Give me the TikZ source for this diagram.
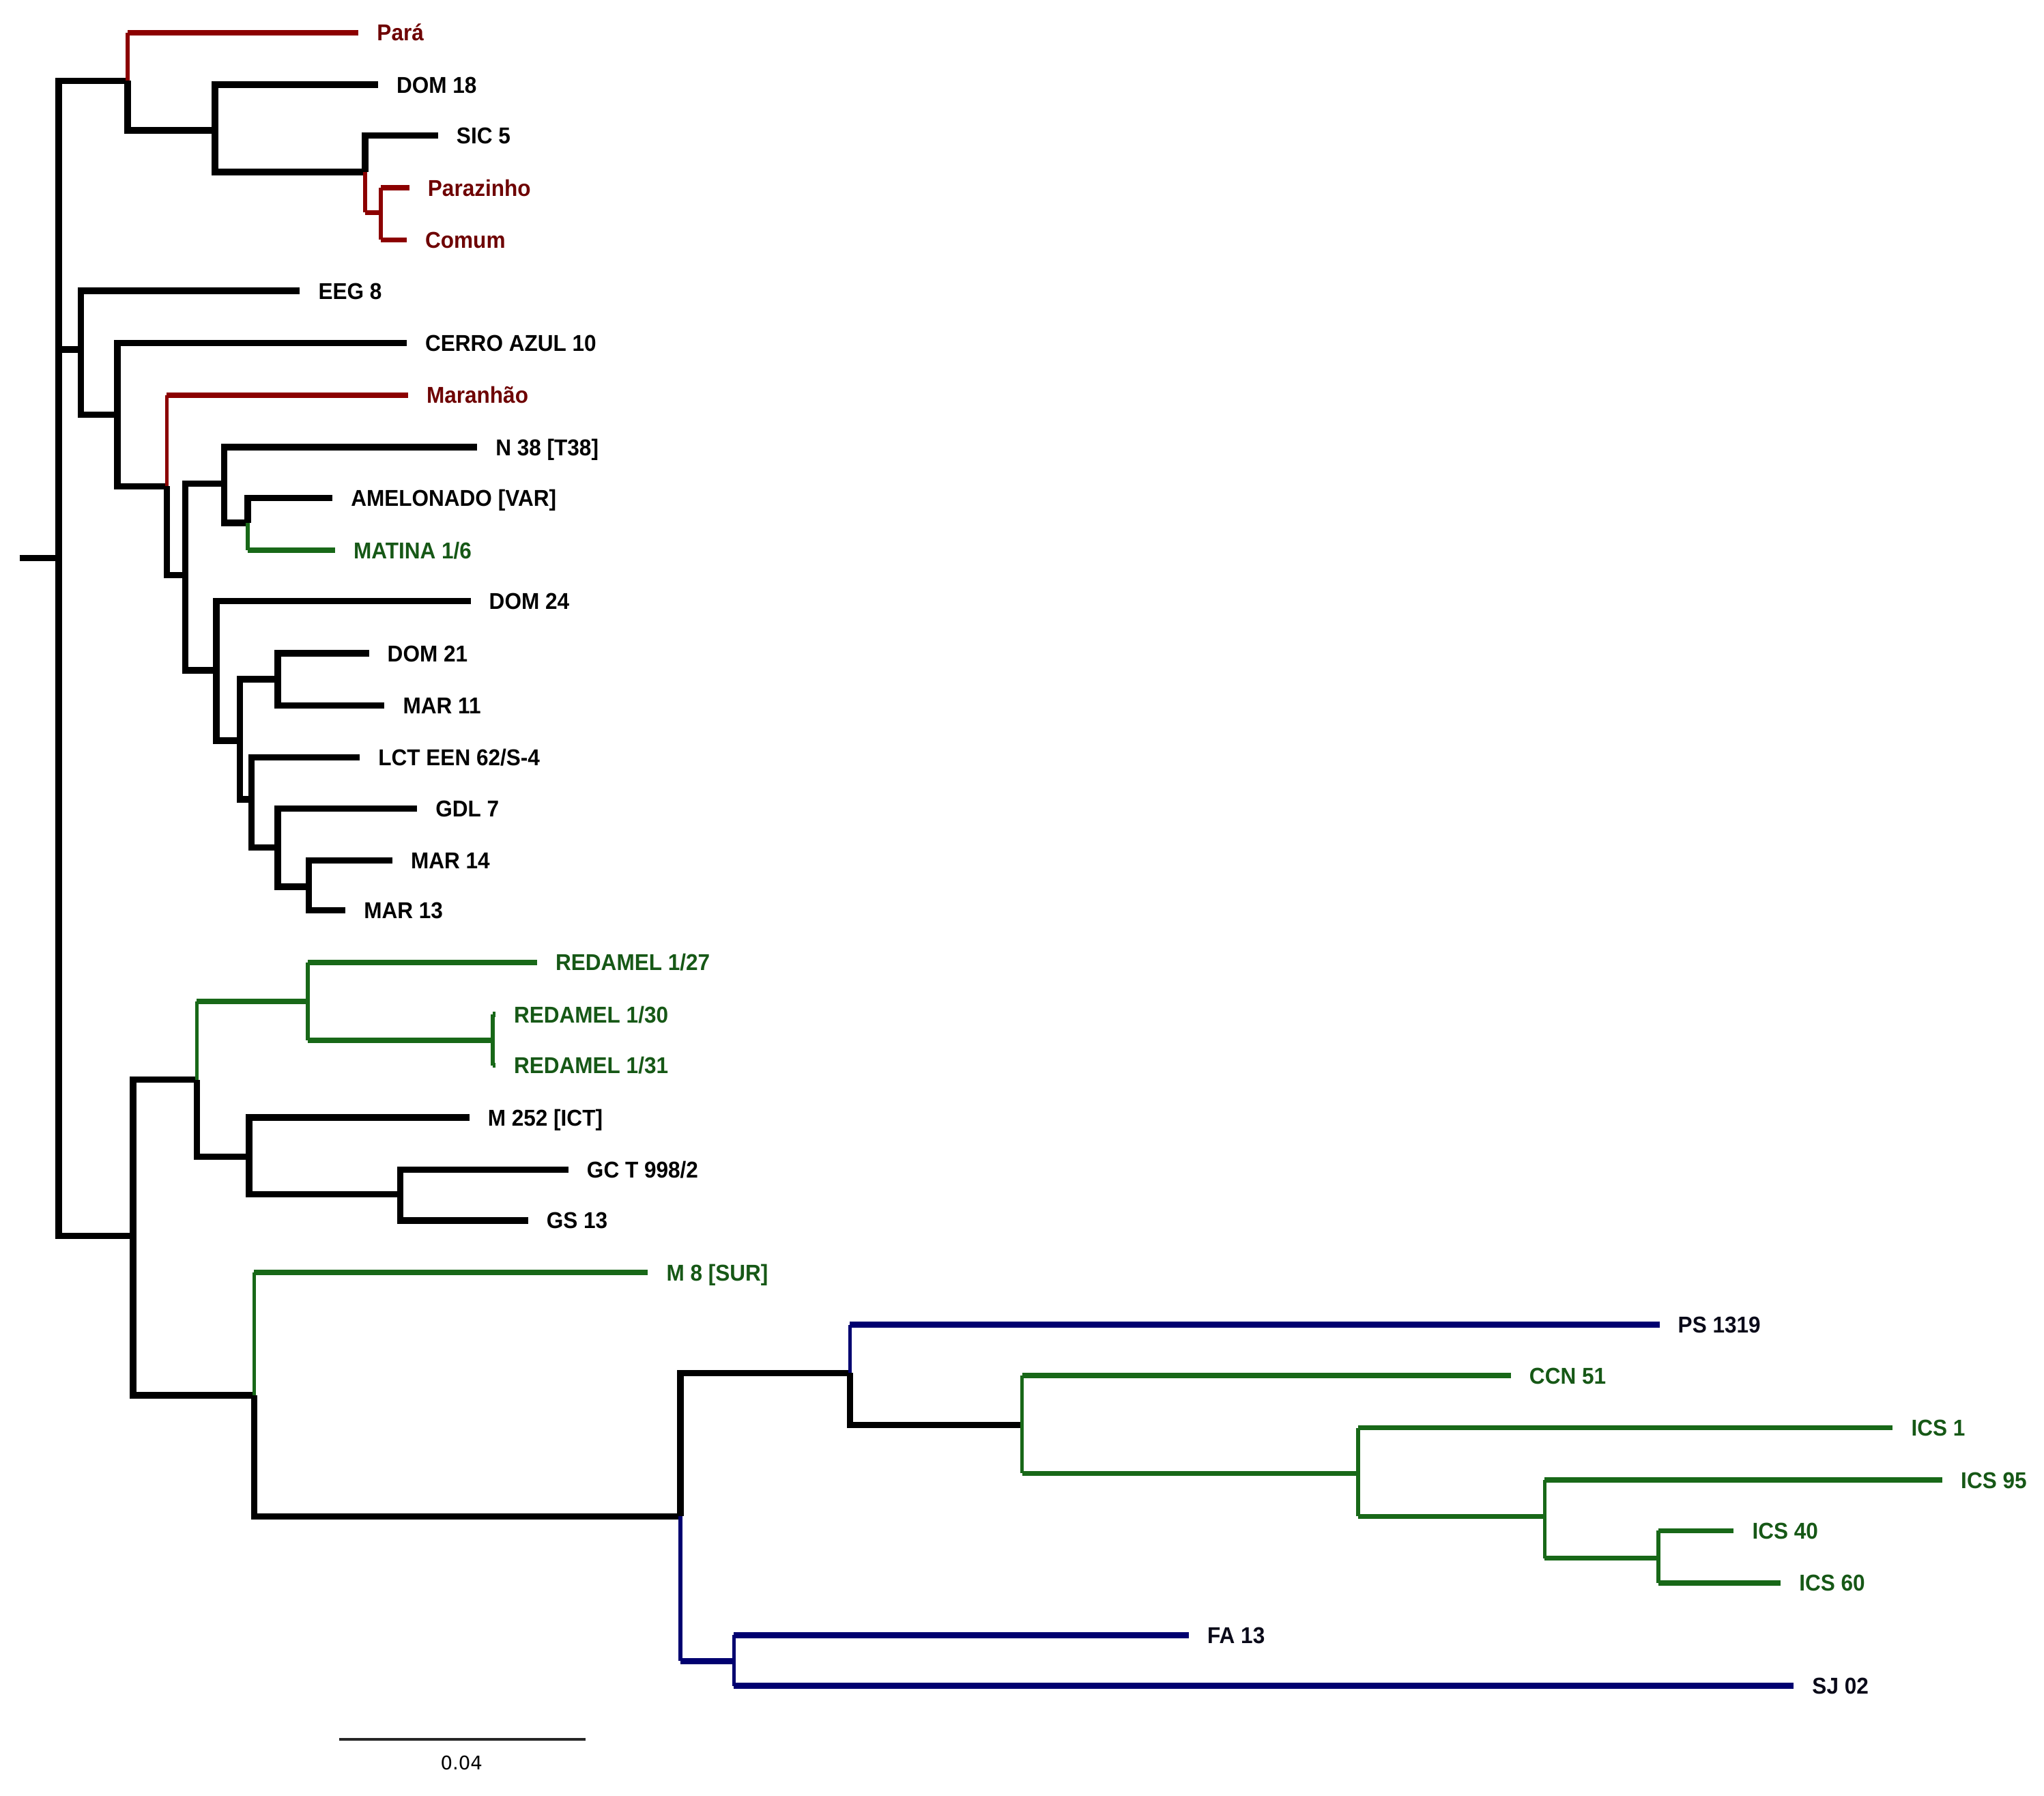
\documentclass[tikz,border=0pt]{standalone}
\usepackage{fontspec}
\newfontfamily\labfont{Liberation Sans}[FakeStretch=0.94]
\newfontfamily\scalefont{DejaVu Sans}
\definecolor{lred}{RGB}{140,0,0}
\definecolor{tred}{RGB}{110,0,0}
\definecolor{lgrn}{RGB}{24,104,24}
\definecolor{tgrn}{RGB}{22,88,22}
\definecolor{lblu}{RGB}{0,0,112}
\definecolor{tblk}{RGB}{10,10,25}
\newcommand\cbranch[3]{\draw[#1v] (#2) -- (#2 |- #3); \draw[#1h] (#2 |- #3) -- (#3);}
\begin{document}
\begin{tikzpicture}[x=0.02cm,y=-0.02cm,
  lab/.style={anchor=west, inner xsep=7.9pt, inner ysep=0pt, text height=7.2pt, text depth=0pt,
    font=\labfont\bfseries\fontsize{10pt}{12pt}\selectfont, text=black},
  labr/.style={lab, text=tred},
  labg/.style={lab, text=tgrn},
  labb/.style={lab, text=tblk},
  blk/.style={line width=2.8pt, black},
  redv/.style={line width=1.7pt, lred, line cap=square},
  redh/.style={line width=2.3pt, lred},
  grnv/.style={line width=1.7pt, lgrn, line cap=square},
  grnh/.style={line width=2.3pt, lgrn},
  bluv/.style={line width=1.6pt, lblu, line cap=square},
  bluh/.style={line width=2.7pt, lblu}]
\fill[white] (0,0) rectangle (1568,1377);
\useasboundingbox (0,0) rectangle (1568,1377);

% ---------- leaves (label nodes; west anchor = branch tip) ----------
\node[labr] (Para) at (275,25) {Pará};
\node[lab] (DOM18) at (290,65) {DOM 18};
\node[lab] (SIC5) at (336,104) {SIC 5};
\node[labr] (Parazinho) at (314,144) {Parazinho};
\node[labr] (Comum) at (312,184) {Comum};
\node[lab] (EEG8) at (230,223) {EEG 8};
\node[lab] (CERRO) at (312,263) {CERRO AZUL 10};
\node[labr] (Maranhao) at (313,303) {Maranhão};
\node[lab] (N38) at (366,343) {N 38 [T38]};
\node[lab] (AMEL) at (255,382) {AMELONADO [VAR]};
\node[labg] (MATINA) at (257,422) {MATINA 1/6};
\node[lab] (DOM24) at (361,461) {DOM 24};
\node[lab] (DOM21) at (283,501) {DOM 21};
\node[lab] (MAR11) at (295,541) {MAR 11};
\node[lab] (LCT) at (276,581) {LCT EEN 62/S-4};
\node[lab] (GDL7) at (320,620) {GDL 7};
\node[lab] (MAR14) at (301,660) {MAR 14};
\node[lab] (MAR13) at (265,698) {MAR 13};
\node[labg] (RED27) at (412,738) {REDAMEL 1/27};
\node[labg] (RED30) at (380,778) {REDAMEL 1/30};
\node[labg] (RED31) at (380,817) {REDAMEL 1/31};
\node[lab] (M252) at (360,857) {M 252 [ICT]};
\node[lab] (GCT) at (436,897) {GC T 998/2};
\node[lab] (GS13) at (405,936) {GS 13};
\node[labg] (M8) at (497,976) {M 8 [SUR]};
\node[labb] (PS) at (1273,1016) {PS 1319};
\node[labg] (CCN) at (1159,1055) {CCN 51};
\node[labg] (ICS1) at (1452,1095) {ICS 1};
\node[labg] (ICS95) at (1490,1135) {ICS 95};
\node[labg] (ICS40) at (1330,1174) {ICS 40};
\node[labg] (ICS60) at (1366,1214) {ICS 60};
\node[labb] (FA13) at (912,1254) {FA 13};
\node[labb] (SJ02) at (1376,1293) {SJ 02};

% ---------- internal nodes ----------
\coordinate (R0) at (15,428);
\coordinate (R) at (45,428);
\coordinate (A) at (98,62);
\coordinate (A2) at (165,100);
\coordinate (A3) at (280,132);
\coordinate (A4) at (292,163);
\coordinate (B) at (62,268);
\coordinate (B2) at (90,318);
\coordinate (B3) at (128,373);
\coordinate (B4) at (142,441);
\coordinate (B5) at (172,371);
\coordinate (B7) at (190,401);
\coordinate (B6) at (166,514);
\coordinate (B8) at (184,568);
\coordinate (B9) at (213,521);
\coordinate (B10) at (193,613);
\coordinate (B11) at (213,650);
\coordinate (B12) at (237,680);
\coordinate (C) at (102,948);
\coordinate (C1) at (151,828);
\coordinate (C3) at (236,768);
\coordinate (C5) at (378,798);
\coordinate (C4) at (191,887);
\coordinate (C6) at (307,916);
\coordinate (C2) at (195,1070);
\coordinate (C7) at (522,1163);
\coordinate (C8) at (652,1053);
\coordinate (C9) at (563,1274);
\coordinate (C10) at (784,1093);
\coordinate (C11) at (1042,1130);
\coordinate (C12) at (1185,1163);
\coordinate (C13) at (1272,1195);

% ---------- black branches ----------
\draw[blk] (R0) -- (R);
\draw[blk] (R) |- (A);
\draw[blk] (R) |- (B);
\draw[blk] (R) |- (C);
\draw[blk] (A) |- (A2);
\draw[blk] (A2) |- (DOM18.west);
\draw[blk] (A2) |- (A3);
\draw[blk] (A3) |- (SIC5.west);
\draw[blk] (B) |- (EEG8.west);
\draw[blk] (B) |- (B2);
\draw[blk] (B2) |- (CERRO.west);
\draw[blk] (B2) |- (B3);
\draw[blk] (B3) |- (B4);
\draw[blk] (B4) |- (B5);
\draw[blk] (B4) |- (B6);
\draw[blk] (B5) |- (N38.west);
\draw[blk] (B5) |- (B7);
\draw[blk] (B7) |- (AMEL.west);
\draw[blk] (B6) |- (DOM24.west);
\draw[blk] (B6) |- (B8);
\draw[blk] (B8) |- (B9);
\draw[blk] (B8) |- (B10);
\draw[blk] (B9) |- (DOM21.west);
\draw[blk] (B9) |- (MAR11.west);
\draw[blk] (B10) |- (LCT.west);
\draw[blk] (B10) |- (B11);
\draw[blk] (B11) |- (GDL7.west);
\draw[blk] (B11) |- (B12);
\draw[blk] (B12) |- (MAR14.west);
\draw[blk] (B12) |- (MAR13.west);
\draw[blk] (C) |- (C1);
\draw[blk] (C) |- (C2);
\draw[blk] (C1) |- (C4);
\draw[blk] (C4) |- (M252.west);
\draw[blk] (C4) |- (C6);
\draw[blk] (C6) |- (GCT.west);
\draw[blk] (C6) |- (GS13.west);
\draw[blk] (C2) |- (C7);
\draw[blk] (C7) |- (C8);
\draw[blk] (C8) |- (C10);

% ---------- coloured branches ----------
\cbranch{red}{A}{Para.west}
\cbranch{red}{A3}{A4}
\cbranch{red}{A4}{Parazinho.west}
\cbranch{red}{A4}{Comum.west}
\cbranch{red}{B3}{Maranhao.west}
\cbranch{grn}{B7}{MATINA.west}
\cbranch{grn}{C1}{C3}
\cbranch{grn}{C3}{RED27.west}
\cbranch{grn}{C3}{C5}
\cbranch{grn}{C5}{RED30.west}
\cbranch{grn}{C5}{RED31.west}
\cbranch{grn}{C2}{M8.west}
\cbranch{blu}{C8}{PS.west}
\cbranch{grn}{C10}{CCN.west}
\cbranch{grn}{C10}{C11}
\cbranch{grn}{C11}{ICS1.west}
\cbranch{grn}{C11}{C12}
\cbranch{grn}{C12}{ICS95.west}
\cbranch{grn}{C12}{C13}
\cbranch{grn}{C13}{ICS40.west}
\cbranch{grn}{C13}{ICS60.west}
\cbranch{blu}{C7}{C9}
\cbranch{blu}{C9}{FA13.west}
\cbranch{blu}{C9}{SJ02.west}

% ---------- scale bar ----------
\coordinate (sbL) at (260,1334);
\coordinate (sbR) at (449,1334);
\draw[line width=1.1pt, black!85] (sbL) -- (sbR);
\node[font=\scalefont\fontsize{8.2pt}{10pt}\selectfont, inner sep=0pt] (sbLab) at (354,1352) {0.04};
\end{tikzpicture}
\end{document}
